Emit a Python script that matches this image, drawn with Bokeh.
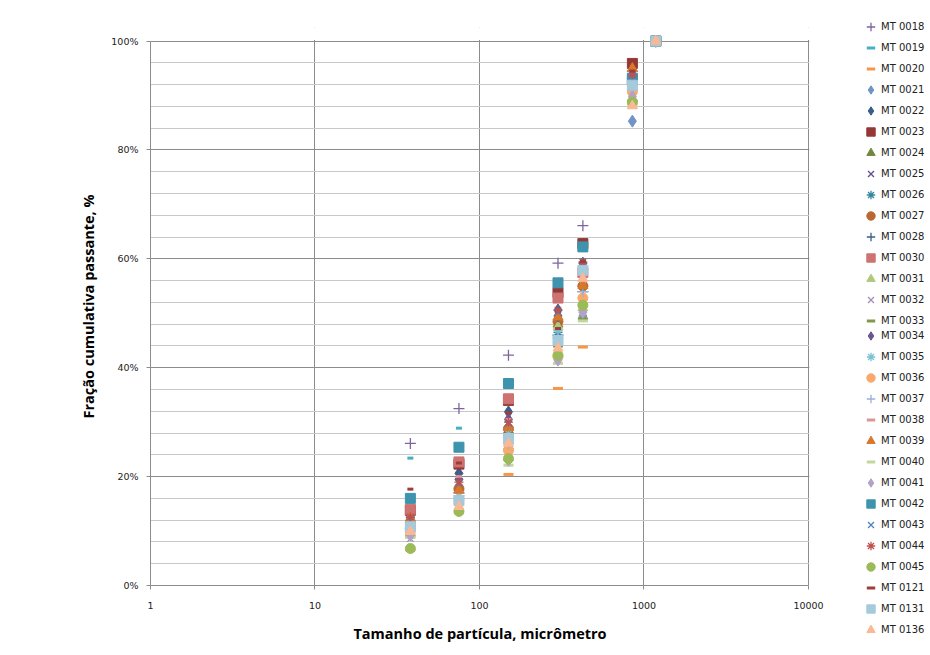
from bokeh.plotting import figure
from bokeh.layouts import row
from bokeh.models import (Legend, LegendItem, FixedTicker, PrintfTickFormatter, Range1d,
                          BoxAnnotation)
from bokeh.embed import file_html
from bokeh.resources import INLINE

sizes_um = [38, 75, 150, 300, 425, 850, 1180]

names = ["MT 0018", "MT 0019", "MT 0020", "MT 0021", "MT 0022", "MT 0023", "MT 0024",
         "MT 0025", "MT 0026", "MT 0027", "MT 0028", "MT 0030", "MT 0031", "MT 0032",
         "MT 0033", "MT 0034", "MT 0035", "MT 0036", "MT 0037", "MT 0038", "MT 0039",
         "MT 0040", "MT 0041", "MT 0042", "MT 0043", "MT 0044", "MT 0045", "MT 0121",
         "MT 0131", "MT 0136"]

mt0018 = [26.1, 32.5, 42.3, 59.2, 66.1, 94.5, 100]
mt0019 = [23.4, 28.9, 37.6, 56.0, 62.8, 94.0, 100]
mt0020 = [6.5, 13.4, 20.4, 36.2, 43.8, 88.5, 100]
mt0021 = [9.5, 16.0, 25.5, 42.5, 49.5, 85.3, 100]
mt0022 = [12.5, 20.6, 31.9, 50.6, 59.2, 93.5, 100]
mt0023 = [13.8, 22.3, 34.0, 53.8, 62.8, 95.9, 100]
mt0024 = [11.5, 18.0, 28.5, 48.0, 55.5, 92.5, 100]
mt0025 = [12.0, 19.0, 29.6, 50.0, 59.0, 93.0, 100]
mt0026 = [11.0, 17.5, 28.0, 46.5, 55.0, 92.0, 100]
mt0027 = [11.5, 17.8, 28.8, 48.5, 55.0, 93.2, 100]
mt0028 = [10.5, 17.0, 27.5, 46.0, 54.0, 92.2, 100]
mt0030 = [14.0, 22.7, 34.3, 52.8, 57.5, 92.8, 100]
mt0031 = [9.8, 15.5, 23.5, 47.5, 51.0, 89.5, 100]
mt0032 = [8.6, 15.0, 24.0, 43.0, 50.0, 90.0, 100]
mt0033 = [9.0, 15.2, 25.0, 44.0, 49.0, 89.0, 100]
mt0034 = [12.2, 19.5, 30.5, 49.5, 58.0, 93.0, 100]
mt0035 = [11.2, 17.0, 27.9, 46.8, 57.5, 91.5, 100]
mt0036 = [10.0, 15.8, 24.8, 42.0, 52.8, 90.7, 100]
mt0037 = [10.8, 16.5, 26.0, 45.5, 54.0, 91.0, 100]
mt0038 = [12.8, 20.0, 30.5, 47.2, 55.5, 92.0, 100]
mt0039 = [12.4, 17.5, 29.0, 49.3, 55.1, 95.0, 100]
mt0040 = [8.8, 14.0, 22.1, 40.8, 48.6, 88.0, 100]
mt0041 = [9.2, 14.8, 23.0, 41.4, 50.2, 89.8, 100]
mt0042 = [16.0, 25.4, 37.1, 55.6, 62.2, 93.2, 100]
mt0043 = [12.0, 18.8, 29.8, 50.2, 59.5, 93.5, 100]
mt0044 = [12.6, 19.0, 30.0, 50.6, 59.4, 93.8, 100]
mt0045 = [6.8, 13.6, 23.3, 42.3, 51.5, 88.8, 100]
mt0121 = [17.7, 22.5, 31.7, 47.2, 59.5, 94.5, 100]
mt0131 = [10.8, 15.6, 27.0, 45.0, 57.9, 91.9, 100]
mt0136 = [9.9, 14.5, 26.1, 43.6, 56.4, 88.1, 100]

series_values = [mt0018, mt0019, mt0020, mt0021, mt0022, mt0023, mt0024, mt0025,
                 mt0026, mt0027, mt0028, mt0030, mt0031, mt0032, mt0033, mt0034,
                 mt0035, mt0036, mt0037, mt0038, mt0039, mt0040, mt0041, mt0042,
                 mt0043, mt0044, mt0045, mt0121, mt0131, mt0136]

y_ticks = [0, 20, 40, 60, 80, 100]
y_minor = [0, 4, 8, 12, 16, 20, 24, 28, 32, 36, 40, 44, 48, 52, 56, 60, 64, 68, 72,
           76, 80, 84, 88, 92, 96, 100]
x_ticks = [1, 10, 100, 1000, 10000]

# (marker, color, size, line_width)
styles = [
    ("cross", "#7F64A0", 11, 1.3),
    ("dash", "#4BACC6", 6, 3),
    ("dash", "#F79646", 10, 3),
    ("diamond", "#7194C8", 12, 1),
    ("diamond", "#3B5E8C", 12, 1),
    ("square", "#953735", 10, 1),
    ("triangle", "#71893F", 10, 1),
    ("x", "#5F4B8B", 9, 1.3),
    ("asterisk", "#31859C", 9, 1.3),
    ("circle", "#B9692F", 10, 1),
    ("cross", "#3A5F8B", 11, 1.3),
    ("square", "#CD7371", 10, 1),
    ("triangle", "#AFC97A", 10, 1),
    ("x", "#A08EB9", 9, 1.3),
    ("dash", "#7F9A48", 10, 3),
    ("diamond", "#6A5590", 12, 1),
    ("asterisk", "#78C0D4", 9, 1.3),
    ("circle", "#F9A96C", 10, 1),
    ("cross", "#95B3D7", 11, 1.3),
    ("dash", "#D99694", 6, 3),
    ("triangle", "#D8782D", 10, 1),
    ("dash", "#C3D69B", 10, 3),
    ("diamond", "#B3A2C7", 12, 1),
    ("square", "#3E93AD", 10, 1),
    ("x", "#4F81BD", 9, 1.3),
    ("asterisk", "#C0504D", 9, 1.3),
    ("circle", "#9BBB59", 10, 1),
    ("dash", "#A03C3A", 6, 3),
    ("square", "#A5CADC", 10, 1),
    ("triangle", "#FAB894", 10, 1),
]

MAIN_W = 840
# y range extends a little above 100% so the markers at 100% are not clipped;
# the strip above 100% is masked so the plot area still ends at 100%.
# x range extends one pixel past 10000 so that gridline is fully visible.
p = figure(width=MAIN_W, height=655, x_axis_type="log", output_backend="svg",
           toolbar_location=None, x_range=Range1d(1, 10141), y_range=Range1d(0, 102.5),
           min_border_left=150, min_border_right=MAIN_W - 809, min_border_top=27,
           min_border_bottom=70)
p.frame_align = False
p.background_fill_color = "white"
p.border_fill_color = "white"
p.outline_line_color = None

# grids
p.ygrid.ticker = FixedTicker(ticks=y_ticks, minor_ticks=y_minor)
p.ygrid.grid_line_color = "#8c8c8c"
p.ygrid.minor_grid_line_color = "#c8c8c8"
p.xgrid.ticker = FixedTicker(ticks=x_ticks)
p.xgrid.grid_line_color = "#8c8c8c"
p.add_layout(BoxAnnotation(bottom=100.2, fill_color="white", fill_alpha=1,
                           line_color=None, level="underlay"))

# axes
p.yaxis.ticker = FixedTicker(ticks=y_ticks)
p.yaxis.formatter = PrintfTickFormatter(format="%d%%")
p.yaxis.bounds = (0, 100)
p.xaxis.ticker = FixedTicker(ticks=x_ticks)
p.xaxis.formatter = PrintfTickFormatter(format="%d")
p.xaxis.bounds = (1, 10000)
for ax in (p.xaxis[0], p.yaxis[0]):
    ax.axis_line_color = "#8c8c8c"
    ax.major_tick_line_color = "#8c8c8c"
    ax.major_tick_out = 4
    ax.major_tick_in = 0
    ax.minor_tick_line_color = None
    ax.major_label_text_font = "DejaVu Sans"
    ax.major_label_text_font_size = "9.5px"
    ax.major_label_text_color = "#222222"
    ax.axis_label_text_font = "Open Sans"
    ax.axis_label_text_font_style = "bold"
    ax.axis_label_text_font_size = "14.5px"
    ax.axis_label_text_color = "#000000"
p.xaxis.major_label_standoff = 12
p.yaxis.major_label_standoff = 8
p.xaxis.axis_label = "Tamanho de partícula, micrômetro"
p.yaxis.axis_label = "Fração cumulativa passante, %"
p.xaxis.axis_label_standoff = 12
p.yaxis.axis_label_standoff = 10

for vals, (mk, col, sz, lw) in zip(series_values, styles):
    p.scatter(sizes_um, vals, marker=mk, size=sz, line_color=col,
              fill_color=col, line_width=lw)

# legend panel: a second figure whose frame covers all of it
LEG_W = 930 - MAIN_W
q = figure(width=LEG_W, height=655, output_backend="svg", toolbar_location=None,
           x_range=Range1d(-2, -1), y_range=Range1d(-2, -1),
           min_border_left=0, min_border_right=0, min_border_top=0, min_border_bottom=0)
q.frame_align = False
q.axis.visible = False
q.grid.visible = False
q.outline_line_color = None
q.background_fill_color = "white"
q.border_fill_color = "white"

items = []
for name, vals, (mk, col, sz, lw) in zip(names, series_values, styles):
    r = q.scatter(sizes_um, vals, marker=mk, size=sz, line_color=col,
                  fill_color=col, line_width=lw)
    items.append(LegendItem(label=name, renderers=[r]))


def make_legend(its, loc):
    lg = Legend(items=its, location=loc)
    lg.label_text_font = "DejaVu Sans"
    lg.label_text_font_size = "10px"
    lg.label_text_color = "#222222"
    lg.label_height = 21
    lg.glyph_height = 21
    lg.glyph_width = 21
    lg.spacing = 0
    lg.padding = 0
    lg.margin = 0
    lg.label_standoff = 0
    lg.border_line_color = None
    lg.background_fill_alpha = 0
    return lg


q.add_layout(make_legend(items[:15], (20, 324)))
q.add_layout(make_legend(items[15:], (20, 15)))

layout = row(p, q, spacing=0)
open("out.html", "w").write(file_html(layout, INLINE))
